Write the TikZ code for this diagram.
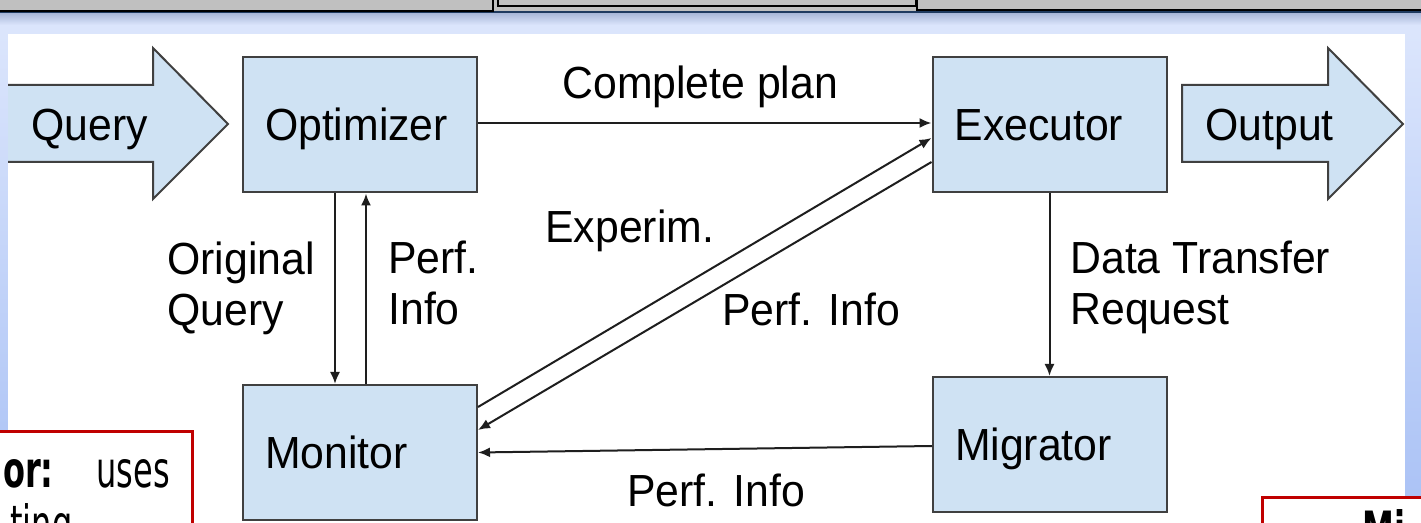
\documentclass[tikz,border=0pt]{standalone}
\usepackage{fontspec}
\setmainfont{Liberation Sans}[FakeStretch=0.95]
\newfontfamily\notefont{DejaVu Sans}[FakeStretch=0.64]
\usetikzlibrary{arrows.meta}
\definecolor{panelblue}{HTML}{DBE5FC}
\definecolor{edgeblue}{HTML}{A9C1F5}
\definecolor{barshadow}{HTML}{A9B7D8}
\definecolor{tabgray}{HTML}{C0C0C0}
\definecolor{barnavy}{HTML}{1F3A5F}
\definecolor{boxfill}{HTML}{CFE2F3}
\definecolor{boxline}{HTML}{404040}
\definecolor{inkline}{HTML}{1E1E1E}
\definecolor{notered}{HTML}{C00000}
\newcommand\diagfont{\fontsize{22.5pt}{25.5pt}\selectfont}
\newcommand\notesize{\notefont\fontsize{25pt}{28pt}\selectfont}
\tikzset{
  box/.style={draw=boxline, fill=boxfill, line width=1pt,
    minimum width=117pt, minimum height=67.5pt, text width=95pt,
    text height=20pt, text depth=4pt,
    inner xsep=11pt, align=left, font=\diagfont},
  bigarrow/.style={draw=boxline, fill=boxfill, line width=1pt, line join=miter},
  conn/.style={draw=inkline, line width=1pt, -{Latex[length=6pt,width=5pt]}},
  tag/.style={font=\diagfont, inner sep=0pt, anchor=base west},
  note/.style={font=\notesize, inner sep=0pt},
  notebox/.style={draw=notered, fill=white, line width=1.5pt},
  tab/.style={draw=black, fill=tabgray, line width=0.75pt}
}
\begin{document}
\begin{tikzpicture}[x=0.5pt, y=-0.5pt]
\useasboundingbox (0,0) rectangle (1421,523);
\clip (0,0) rectangle (1421,523);

% window background and side gradients
\fill[panelblue] (0,0) rectangle (1421,523);
\shade[top color=panelblue, bottom color=edgeblue] (0,34) rectangle (8,523);
\shade[top color=panelblue, bottom color=edgeblue] (1405,34) rectangle (1421,523);

% tab strip along the top
\fill[tabgray] (0,0) rectangle (1421,12);
\shade[top color=barshadow, bottom color=panelblue] (0,13) rectangle (1421,25);
\fill[barnavy] (0,11.5) rectangle (1421,13);
\draw[tab] (-5,-5) rectangle (493,11);
\draw[tab] (498,-5) rectangle (916,6);
\draw[tab] (917,-5) rectangle (1430,10);

% white drawing panel
\fill[white] (8,34) rectangle (1405,540);

% input and output arrows
\path[bigarrow, draw=none] (8,85) -- (153,85) -- (153,48) -- (228,124) -- (153,199) -- (153,162) -- (8,162) -- cycle;
\draw[bigarrow, fill=none] (8,85) -- (153,85) -- (153,48) -- (228,124) -- (153,199) -- (153,162) -- (8,162);
\node[tag] (query) at (31,141) {Query};
\path[bigarrow] (1182,85) -- (1328,85) -- (1328,48) -- (1403,124) -- (1328,199) -- (1328,162) -- (1182,162) -- cycle;
\node[tag] (output) at (1205,141) {Output};

% components
\node[box] (opt) at (360,125) {Optimizer};
\node[box] (exe) at (1049.5,125) {Executor};
\node[box] (mon) at (360,452.5) {Monitor};
\node[box] (mig) at (1050,444.5) {Migrator};

% connectors
\draw[conn] ([yshift=1pt]opt.east) -- ([yshift=1pt]exe.west);
\draw[conn] ([xshift=-12.5pt]opt.south) -- ([xshift=-12.5pt]mon.north);
\draw[conn] ([xshift=3pt]mon.north) -- ([xshift=3pt]opt.south);
\draw[conn] ([yshift=22.75pt]mon.east) -- ([yshift=-6.5pt]exe.west);
\draw[conn] ([yshift=-18.5pt]exe.west) -- ([yshift=11.25pt]mon.east);
\draw[conn] (exe.south) -- (exe.south |- mig.north);
\draw[conn] ([yshift=-0.75pt]mig.west) -- (mon.east);

% connector labels
\node[tag] (lplan) at (562,99) {Complete plan};
\node[tag] (lexp) at (545,243) {Experim.};
\node[tag] (lorig) at (167,275) {\begin{tabular}[t]{@{}l@{}}Original\\Query\end{tabular}};
\node[tag] (lperfup) at (388,274) {\begin{tabular}[t]{@{}l@{}}Perf.\\Info\end{tabular}};
\node[tag] (lperfmid) at (722,326) {Perf. Info};
\node[tag] (ldata) at (1070,274) {\begin{tabular}[t]{@{}l@{}}Data Transfer\\Request\end{tabular}};
\node[tag] (lperfbot) at (627,507) {Perf. Info};

% callouts at the bottom edge
\draw[notebox] (-10,432) rectangle (192,560);
\node[note, anchor=base east] (nl1) at (54,488) {\textbf{or:}};
\node[note, anchor=base west] (nl2) at (96,488) {uses};
\node[note, anchor=base west] (nl3) at (10,542) {ting};
\draw[notebox] (1262,498) rectangle (1440,560);
\node[note, anchor=base west] (nr1) at (1362,548) {\textbf{Mi}};
\end{tikzpicture}
\end{document}
